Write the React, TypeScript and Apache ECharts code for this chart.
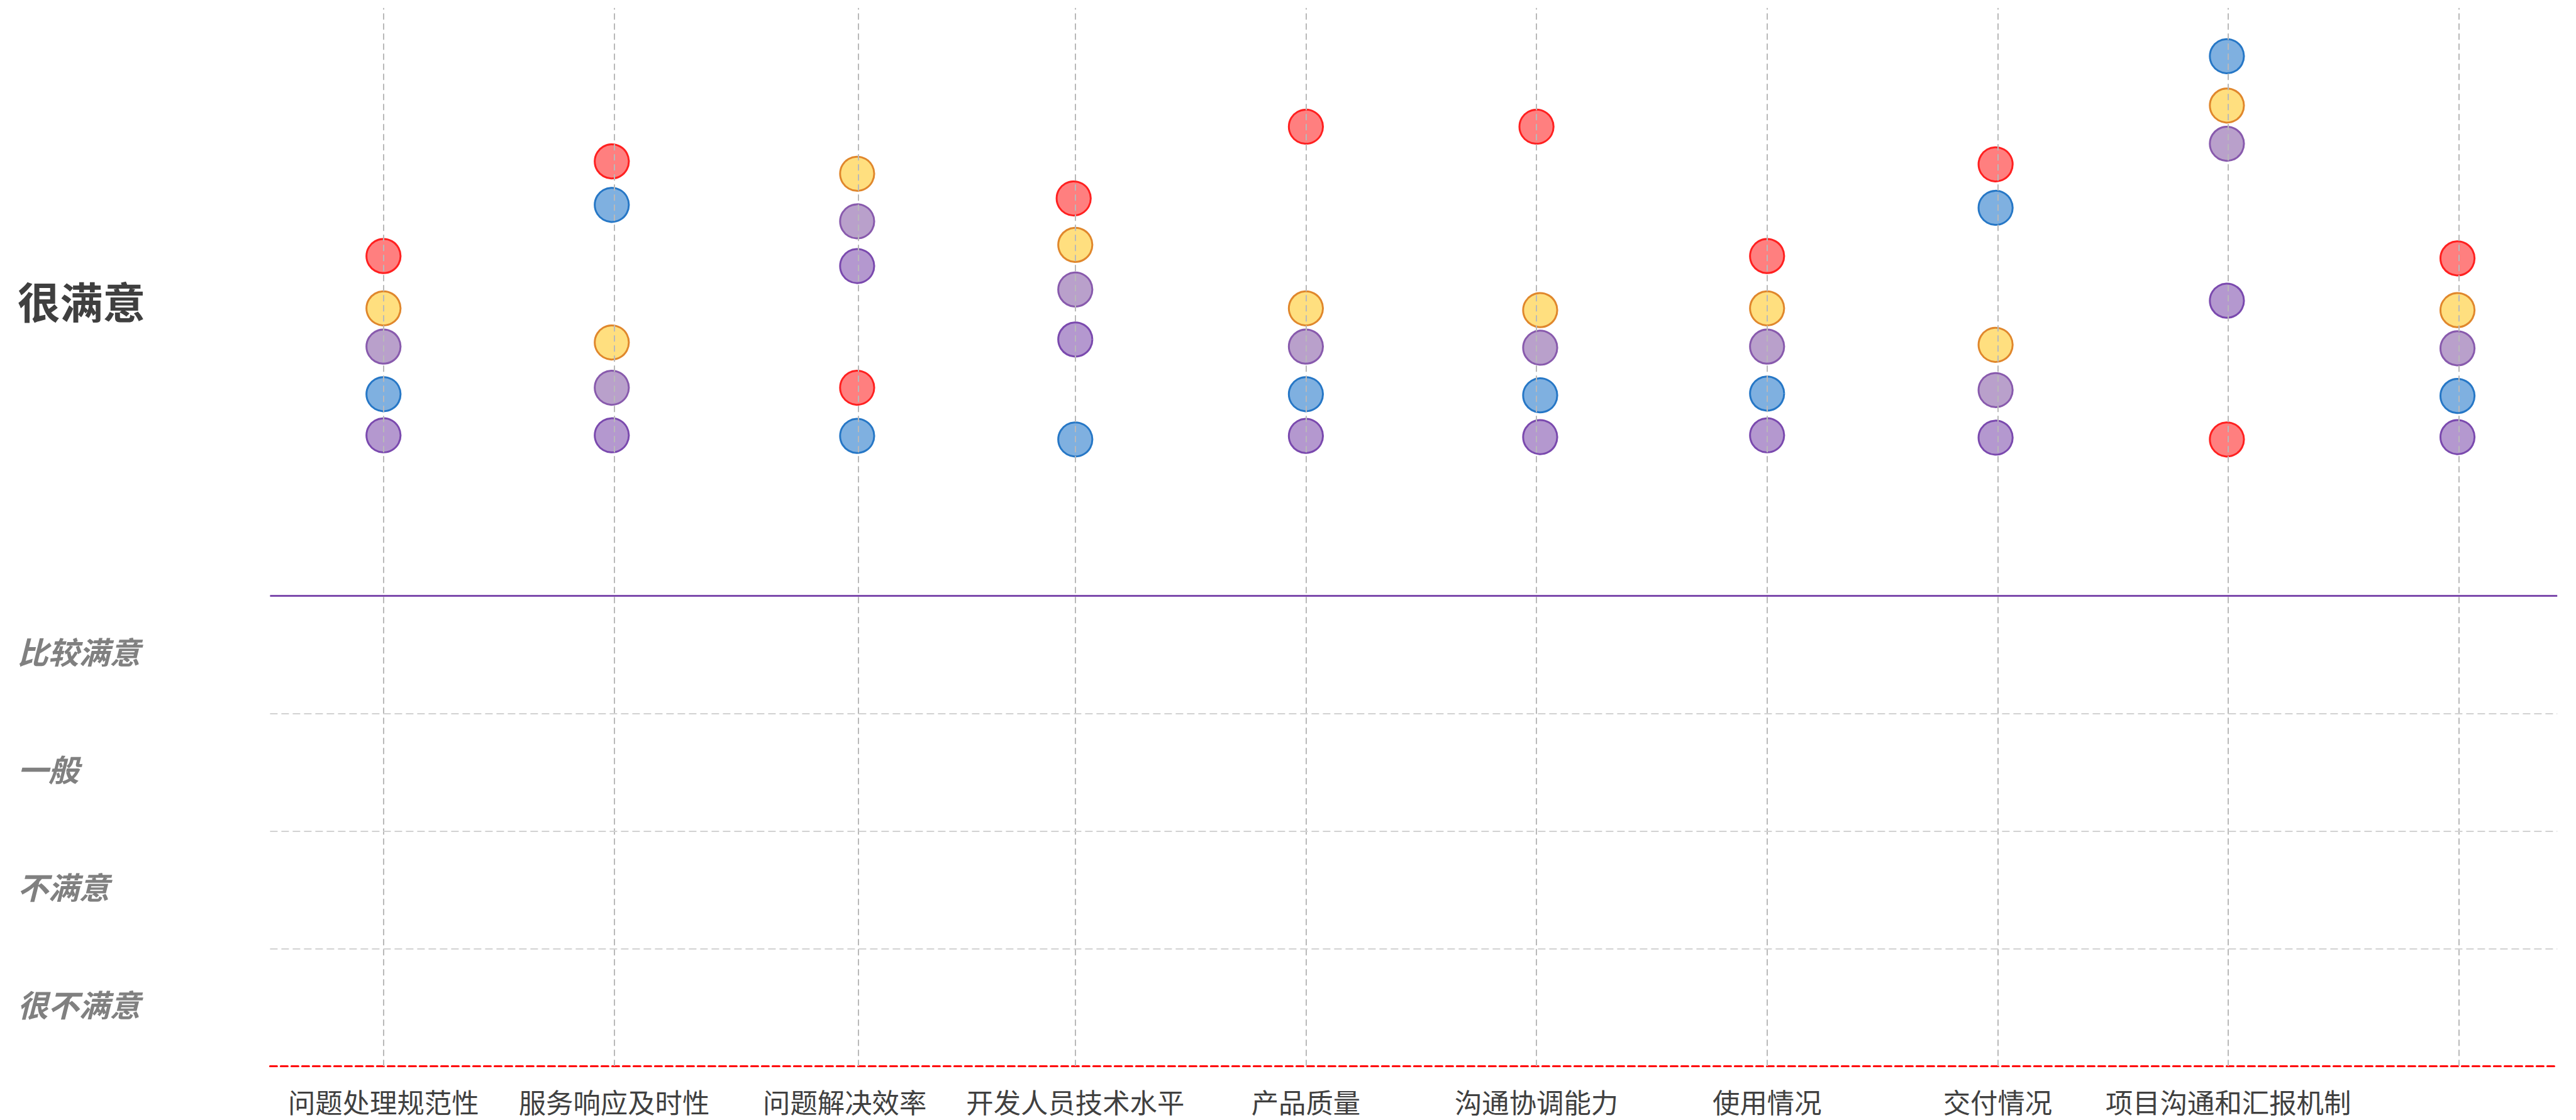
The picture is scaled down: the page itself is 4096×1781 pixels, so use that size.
import React, { useEffect, useRef } from "react";
import * as echarts from "echarts";

// ---- data ----
const categories = [
  "问题处理规范性",
  "服务响应及时性",
  "问题解决效率",
  "开发人员技术水平",
  "产品质量",
  "沟通协调能力",
  "使用情况",
  "交付情况",
  "项目沟通和汇报机制",
];
const labelPositions = [0, 1, 2, 3, 4, 5, 6, 7, 8];

const levelNames = ["很不满意", "不满意", "一般", "比较满意", "很满意"];
const levelLabelPos = [10.7, 30.7, 50.7, 70.7, 130.3];
const bandLines = [20, 40, 60];
const topBandLine = 80;

const columnLineX = [0, 1, 2.063, 3, 4, 5, 6, 7, 8, 9];
const pointX = [0, 0.99, 2.054, 3.0, 4.0, 5.016, 6.0, 6.991, 7.994, 8.994];
const redX = [0, 0.99, 2.054, 2.993, 4.0, 5.0, 6.0, 6.991, 7.994, 8.994];

const redValues = [137.8, 153.9, 115.4, 147.6, 159.8, 159.8, 137.8, 153.4, 106.6, 137.4];
const yellowValues = [128.9, 123.1, 151.8, 139.7, 128.9, 128.6, 128.9, 122.7, 163.4, 128.6];
const lavenderValues = [122.4, 115.4, 143.7, 132.1, 122.4, 122.2, 122.4, 115.0, 156.9, 122.1];
const blueValues = [114.3, 146.5, 107.2, 106.6, 114.3, 114.1, 114.4, 146.0, 171.8, 114.0];
const purpleValues = [107.3, 107.3, 136.1, 123.6, 107.2, 107.0, 107.3, 106.9, 130.2, 107.0];

// ---- styling ----
const S = 0.904;
const FONT = '"Noto Sans CJK SC", "Noto Sans", sans-serif';

const seriesDefs = [
  { name: "红", xs: redX, ys: redValues, fill: "rgba(255,0,0,0.5)", border: "#ff2020" },
  { name: "黄", xs: pointX, ys: yellowValues, fill: "rgba(255,191,0,0.5)", border: "#e0872c" },
  { name: "淡紫", xs: pointX, ys: lavenderValues, fill: "rgba(115,65,151,0.5)", border: "#885aad" },
  { name: "蓝", xs: pointX, ys: blueValues, fill: "rgba(0,97,193,0.5)", border: "#2677c6" },
  { name: "紫", xs: pointX, ys: purpleValues, fill: "rgba(105,49,159,0.5)", border: "#7a49ae" },
];

export default function App() {
  const ref = useRef<HTMLDivElement>(null);

  useEffect(() => {
    if (!ref.current) return;
    const chart = echarts.init(ref.current, undefined, { renderer: "svg" });

    const nearestIndex = (arr: number[], v: number) => {
      let best = 0;
      for (let i = 1; i < arr.length; i++) {
        if (Math.abs(arr[i] - v) < Math.abs(arr[best] - v)) best = i;
      }
      return best;
    };

    const markData: any[] = [];
    columnLineX.forEach((x) =>
      markData.push({
        xAxis: x,
        lineStyle: { color: "#b9b9b9", width: 2, type: [10, 6] },
      })
    );
    bandLines.forEach((y) =>
      markData.push({
        yAxis: y,
        lineStyle: { color: "#d2d2d2", width: 2, type: [12, 6] },
      })
    );
    markData.push({
      yAxis: topBandLine,
      lineStyle: { color: "#7d4aac", width: 3, type: "solid" },
    });

    const option: any = {
      animation: false,
      backgroundColor: "#ffffff",
      grid: {
        left: 475 * S,
        right: 4096 - 4498 * S,
        top: 14 * S,
        bottom: 1781 - 1875.3 * S,
        containLabel: false,
      },
      xAxis: {
        type: "value",
        min: -0.492,
        max: 9.4266,
        splitLine: { show: false },
        axisTick: { show: false },
        axisLine: {
          show: true,
          onZero: false,
          lineStyle: { color: "#ff0000", width: 3, type: [11, 6] },
        },
        axisLabel: {
          customValues: labelPositions,
          formatter: (v: number) => categories[Math.round(v)] ?? "",
          fontSize: 48 * S,
          lineHeight: 48 * S,
          color: "#404040",
          fontFamily: FONT,
          margin: 42 * S - 4,
        },
      },
      yAxis: {
        type: "value",
        min: 0,
        max: 180,
        splitLine: { show: false },
        axisTick: { show: false },
        axisLine: { show: false },
        axisLabel: {
          customValues: levelLabelPos,
          align: "left",
          margin: (475 - 31) * S,
          formatter: (v: number) => {
            const i = nearestIndex(levelLabelPos, v);
            return i === levelNames.length - 1 ? `{top|${levelNames[i]}}` : `{sub|${levelNames[i]}}`;
          },
          rich: {
            top: {
              fontSize: 75 * S,
              fontWeight: "bold",
              color: "#3f3f3f",
              fontFamily: FONT,
            },
            sub: {
              fontSize: 54 * S,
              fontWeight: "bold",
              fontStyle: "italic",
              color: "#808080",
              fontFamily: FONT,
            },
          },
        },
      },
      series: [
        {
          type: "scatter",
          name: "lines",
          data: [],
          z: 1,
          silent: true,
          markLine: {
            silent: true,
            symbol: ["none", "none"],
            label: { show: false },
            animation: false,
            data: markData,
          },
        },
        ...seriesDefs.map((d) => ({
          type: "scatter",
          name: d.name,
          z: 3,
          symbol: "circle",
          symbolSize: 60 * S,
          data: d.ys.map((y, i) => [d.xs[i], y]),
          itemStyle: {
            color: d.fill,
            borderColor: d.border,
            borderWidth: 3,
            opacity: 1,
          },
        })),
      ],
    };

    chart.setOption(option);
    return () => chart.dispose();
  }, []);

  return (
    <div
      ref={ref}
      style={{ position: "fixed", left: 0, top: 0, width: "4096px", height: "1781px", background: "#fff" }}
    />
  );
}
